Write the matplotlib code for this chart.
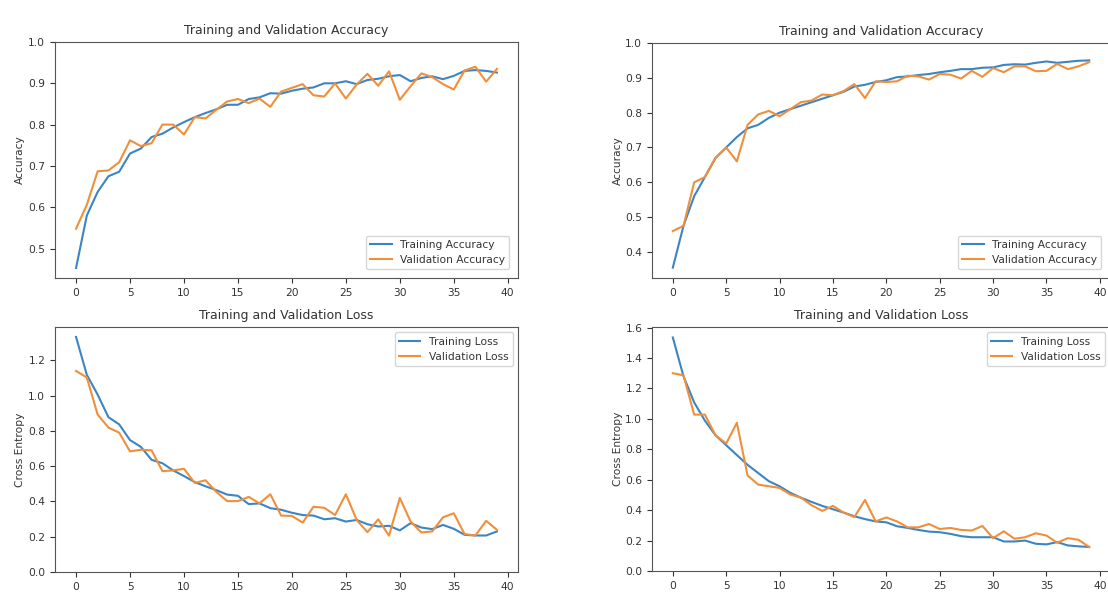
import matplotlib
matplotlib.use("Agg")
import matplotlib.pyplot as plt
import numpy as np

epochs = list(range(40))

# Left run
acc_left = [0.453, 0.58, 0.637, 0.675, 0.686, 0.73, 0.742, 0.77, 0.778, 0.793,
            0.806, 0.818, 0.828, 0.837, 0.848, 0.848, 0.862, 0.866, 0.876, 0.875,
            0.882, 0.887, 0.89, 0.9, 0.9, 0.905, 0.898, 0.908, 0.911, 0.917,
            0.92, 0.905, 0.913, 0.917, 0.91, 0.918, 0.93, 0.932, 0.93, 0.926]
val_acc_left = [0.548, 0.606, 0.687, 0.689, 0.709, 0.762, 0.748, 0.755, 0.8, 0.8,
                0.776, 0.818, 0.815, 0.836, 0.856, 0.862, 0.852, 0.863, 0.843, 0.88,
                0.889, 0.898, 0.871, 0.868, 0.9, 0.863, 0.897, 0.923, 0.894, 0.929,
                0.86, 0.893, 0.924, 0.915, 0.898, 0.885, 0.931, 0.94, 0.904, 0.935]
loss_left = [1.333, 1.118, 1.006, 0.878, 0.837, 0.748, 0.71, 0.636, 0.617, 0.576,
             0.544, 0.51, 0.486, 0.464, 0.439, 0.432, 0.385, 0.389, 0.362, 0.353,
             0.336, 0.323, 0.32, 0.299, 0.305, 0.286, 0.295, 0.271, 0.258, 0.262,
             0.236, 0.277, 0.252, 0.243, 0.267, 0.245, 0.211, 0.207, 0.207, 0.23]
val_loss_left = [1.14, 1.103, 0.893, 0.819, 0.79, 0.684, 0.693, 0.69, 0.572, 0.576,
                 0.585, 0.505, 0.52, 0.454, 0.402, 0.402, 0.426, 0.389, 0.441, 0.32,
                 0.318, 0.28, 0.37, 0.364, 0.323, 0.441, 0.295, 0.226, 0.299, 0.206,
                 0.42, 0.286, 0.224, 0.23, 0.31, 0.333, 0.215, 0.207, 0.29, 0.239]

# Right run
acc_right = [0.355, 0.475, 0.56, 0.615, 0.67, 0.70, 0.73, 0.755, 0.765, 0.785,
             0.80, 0.81, 0.82, 0.83, 0.84, 0.85, 0.86, 0.875, 0.88, 0.888,
             0.893, 0.902, 0.904, 0.908, 0.911, 0.916, 0.92, 0.925, 0.925, 0.929,
             0.93, 0.937, 0.939, 0.938, 0.943, 0.947, 0.943, 0.946, 0.949, 0.95]
val_acc_right = [0.46, 0.475, 0.60, 0.615, 0.67, 0.70, 0.66, 0.765, 0.795, 0.805,
                 0.79, 0.81, 0.83, 0.835, 0.852, 0.85, 0.862, 0.882, 0.842, 0.89,
                 0.888, 0.89, 0.906, 0.904, 0.895, 0.911, 0.909, 0.898, 0.92, 0.903,
                 0.928, 0.916, 0.933, 0.933, 0.919, 0.92, 0.94, 0.925, 0.933, 0.945]
loss_right = [1.535, 1.28, 1.108, 0.989, 0.892, 0.827, 0.762, 0.698, 0.644, 0.59,
              0.557, 0.514, 0.482, 0.454, 0.428, 0.406, 0.384, 0.36, 0.341, 0.326,
              0.32, 0.294, 0.283, 0.27, 0.259, 0.255, 0.244, 0.229, 0.222, 0.222,
              0.222, 0.194, 0.194, 0.2, 0.179, 0.175, 0.19, 0.168, 0.162, 0.158]
val_loss_right = [1.30, 1.286, 1.028, 1.028, 0.892, 0.838, 0.974, 0.628, 0.568, 0.557,
                  0.546, 0.503, 0.482, 0.432, 0.395, 0.428, 0.384, 0.354, 0.467, 0.326,
                  0.352, 0.326, 0.287, 0.287, 0.309, 0.276, 0.283, 0.27, 0.266, 0.296,
                  0.216, 0.261, 0.212, 0.222, 0.248, 0.233, 0.186, 0.216, 0.205, 0.158]

TXT = "#333333"
BLUE = "#3d85c2"
ORANGE = "#f08f3a"
plt.rcParams.update({
    "font.family": "DejaVu Sans",
    "font.size": 7.7,
    "text.color": TXT,
    "axes.labelcolor": TXT,
    "xtick.color": TXT,
    "ytick.color": TXT,
    "axes.edgecolor": "#555555",
})

W, H = 1108, 593
fig = plt.figure(figsize=(W / 100, H / 100), dpi=100)


def add_axes(x0, y0, x1, y1):
    return fig.add_axes([x0 / W, 1 - y1 / H, (x1 - x0) / W, (y1 - y0) / H])


def acc_panel(ax, acc, val_acc):
    ax.plot(epochs, acc, label="Training Accuracy", lw=1.5, color=BLUE)
    ax.plot(epochs, val_acc, label="Validation Accuracy", lw=1.5, color=ORANGE)
    ax.legend(loc="lower right", fontsize=7.7, borderaxespad=0.8)
    ax.set_ylabel("Accuracy")
    ax.set_ylim([min(ax.get_ylim()), 1])
    ax.set_title("Training and Validation Accuracy", fontsize=9, color=TXT)
    ax.set_xticks(range(0, 41, 5))


def loss_panel(ax, loss, val_loss):
    ax.plot(epochs, loss, label="Training Loss", lw=1.5, color=BLUE)
    ax.plot(epochs, val_loss, label="Validation Loss", lw=1.5, color=ORANGE)
    ax.legend(loc="upper right", fontsize=7.7)
    ax.set_ylabel("Cross Entropy")
    ax.set_ylim([0, max(ax.get_ylim())])
    ax.set_title("Training and Validation Loss", fontsize=9, color=TXT)
    ax.set_xticks(range(0, 41, 5))


ax1 = add_axes(55, 42, 518, 278)
acc_panel(ax1, acc_left, val_acc_left)
ax2 = add_axes(55, 327, 518, 572)
loss_panel(ax2, loss_left, val_loss_left)

ax3 = add_axes(652, 43, 1110, 278)
acc_panel(ax3, acc_right, val_acc_right)
ax4 = add_axes(652, 327, 1110, 571)
loss_panel(ax4, loss_right, val_loss_right)

for ax in (ax1, ax2):
    ax.yaxis.set_label_coords(-0.064, 0.5)
for ax in (ax3, ax4):
    ax.yaxis.set_label_coords(-0.063, 0.5)

fig.savefig("out.png", dpi=100)
